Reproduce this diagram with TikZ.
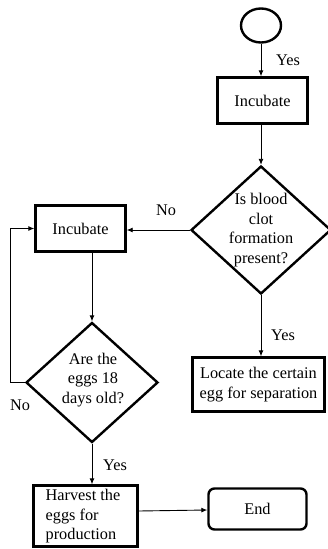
\documentclass[tikz,border=0pt]{standalone}
\usepackage{fontspec}
\setmainfont{Liberation Serif}
\usetikzlibrary{arrows.meta,shapes.geometric}
\begin{document}
\begin{tikzpicture}[x=1pt,y=-1pt,
  every node/.style={font=\fontsize{16.3}{19.5}\selectfont, inner sep=0pt},
  boxnode/.style={draw, line width=2.4pt, rectangle},
  decnode/.style={draw, line width=2.4pt, diamond, aspect=1.1},
  conn/.style={line width=0.9pt, -{Latex[length=6pt,width=5pt]}},
  lbl/.style={}]
\useasboundingbox (0,0) rectangle (328,549);
% nodes
\node[draw, line width=2.4pt, ellipse, minimum width=40pt, minimum height=34pt] (start) at (261,25.5) {};
\node[boxnode, minimum width=90pt, minimum height=46pt] (inc1) at (262.5,100.5) {Incubate};
\node[decnode, minimum width=140pt, minimum height=128pt] (d1) at (261,230) {};
\node[align=center] (d1t) at (261,230) {Is blood\\clot\\formation\\present?};
\node[boxnode, minimum width=90pt, minimum height=46pt] (inc2) at (80.5,228.5) {Incubate};
\node[decnode, minimum width=132pt, minimum height=120pt] (d2) at (92,382.5) {};
\node[align=center] (d2t) at (93,380) {Are the\\eggs 18\\days old?};
\node[boxnode, minimum width=132pt, minimum height=54pt, align=center] (loc) at (258.5,384.5) {Locate the certain\\egg for separation};
\node[boxnode, minimum width=104pt, minimum height=61pt] (harv) at (85.5,516) {};
\node[align=left] (harvt) at (83,516.5) {Harvest the\\eggs for\\production};
\node[draw, line width=2.4pt, rounded corners=6pt, minimum width=98pt, minimum height=41pt] (endn) at (257.5,509) {End};
% connectors
\draw[conn] (start.south) -- (start.south |- inc1.north);
\draw[conn] (inc1.south -| d1.north) -- (d1.north);
\draw[conn] (d1.west) -- (d1.west -| inc2.east);
\draw[conn] (inc2.south -| d2.north) -- (d2.north);
\draw[conn] (d2.west) -- ++(-14,0) |- (inc2.west);
\draw[conn] (d1.south) -- (d1.south |- loc.north);
\draw[conn] (d2.south) -- (d2.south |- harv.north);
\draw[conn] ([yshift=5pt]harv.east) -- ([yshift=-1pt]endn.west);
% labels
\node[lbl] (l1) at (288,60) {Yes};
\node[lbl] (l2) at (166,210) {No};
\node[lbl] (l3) at (283,335) {Yes};
\node[lbl] (l4) at (20,405) {No};
\node[lbl] (l5) at (115,465) {Yes};
\end{tikzpicture}
\end{document}
